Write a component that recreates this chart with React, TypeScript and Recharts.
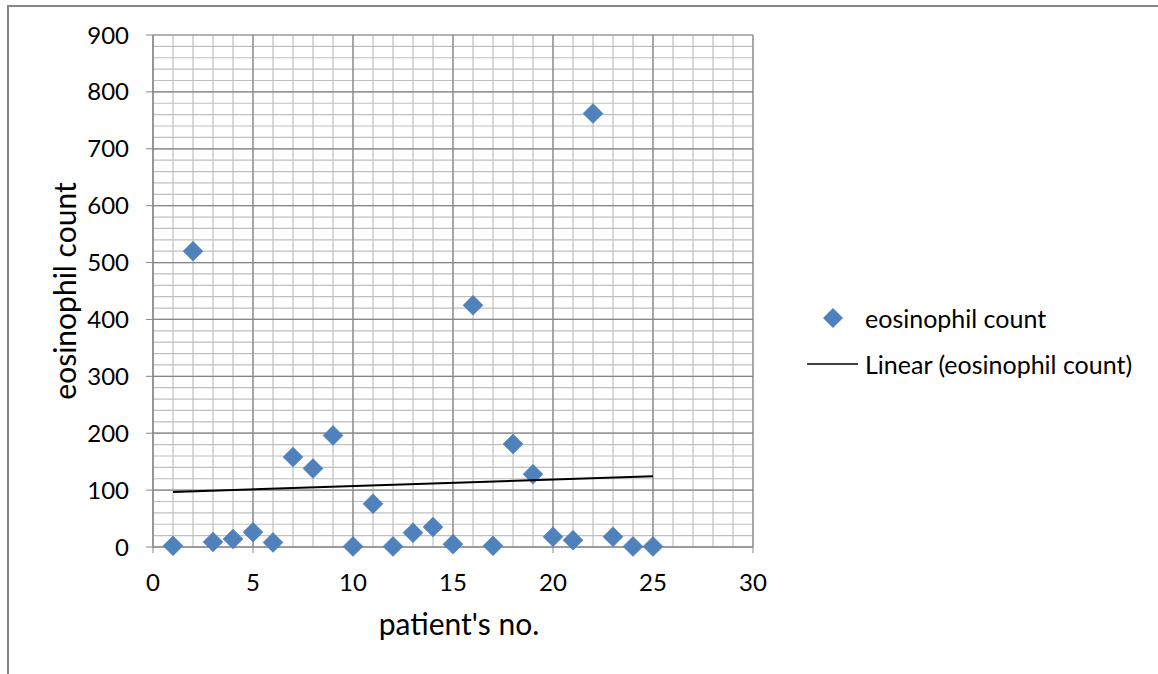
import React from 'react';
import { ScatterChart, Scatter, XAxis, YAxis, CartesianGrid, Legend, Label } from 'recharts';

const patientNo = [1, 2, 3, 4, 5, 6, 7, 8, 9, 10, 11, 12, 13, 14, 15, 16, 17, 18, 19, 20, 21, 22, 23, 24, 25];
const eosinophilCount = [2, 520, 9, 14, 26, 8, 158, 138, 196, 1, 76, 1, 25, 35, 5, 425, 2, 181, 128, 18, 12, 762, 18, 1, 1];

const xTicks = [0, 5, 10, 15, 20, 25, 30];
const yTicks = [0, 100, 200, 300, 400, 500, 600, 700, 800, 900];
const xMinor = Array.from({ length: 31 }, (_, i) => i);
const yMinor = Array.from({ length: 46 }, (_, i) => i * 20);

const seriesName = 'eosinophil count';
const trendName = 'Linear (eosinophil count)';

const points = patientNo.map((x, i) => ({ x, y: eosinophilCount[i] }));

// least squares trendline, as Excel draws it
const n = points.length;
const mx = patientNo.reduce((a, b) => a + b, 0) / n;
const my = eosinophilCount.reduce((a, b) => a + b, 0) / n;
const slope =
  points.reduce((s, p) => s + (p.x - mx) * (p.y - my), 0) /
  points.reduce((s, p) => s + (p.x - mx) ** 2, 0);
const intercept = my - slope * mx;
const xFirst = patientNo[0];
const xLast = patientNo[patientNo.length - 1];
const trendData = [
  { x: xFirst, y: intercept + slope * xFirst },
  { x: xLast, y: intercept + slope * xLast },
];

const BLUE = '#4F81BD';
const AXIS = '#868686';
const FONT = 'Lato, "Open Sans", sans-serif';

const Diamond = (props: any) => {
  const { cx, cy } = props;
  const r = 10;
  return (
    <polygon
      points={`${cx},${cy - r} ${cx + r},${cy} ${cx},${cy + r} ${cx - r},${cy}`}
      fill={BLUE}
      stroke="#4A7AB5"
      strokeWidth={0.5}
    />
  );
};

const renderLegend = () => (
  <div style={{ fontFamily: FONT, fontSize: 25, color: '#000', lineHeight: '26px' }}>
    <div style={{ display: 'flex', alignItems: 'center', height: 26 }}>
      <svg width={75} height={26}>
        <polygon points="43,3 53,13 43,23 33,13" fill={BLUE} />
      </svg>
      <span>{seriesName}</span>
    </div>
    <div style={{ display: 'flex', alignItems: 'center', height: 26, marginTop: 20 }}>
      <svg width={75} height={26}>
        <line x1={17} y1={13} x2={68} y2={13} stroke="#000" strokeWidth={1.5} />
      </svg>
      <span>{trendName}</span>
    </div>
  </div>
);

const App: React.FC = () => {
  return (
    <div
      style={{
        position: 'absolute',
        top: 5,
        left: 7,
        width: 1151,
        height: 669,
        borderTop: `2px solid ${AXIS}`,
        borderLeft: `2px solid ${AXIS}`,
        background: '#fff',
      }}
    >
      <ScatterChart width={1149} height={667} margin={{ top: 28, right: 405, bottom: 0, left: 0 }}>
        <CartesianGrid
          stroke="#BFBFBF"
          strokeWidth={1.2}
          verticalValues={xMinor}
          horizontalValues={yMinor}
        />
        <CartesianGrid
          stroke={AXIS}
          strokeWidth={1.2}
          verticalValues={xTicks}
          horizontalValues={yTicks}
        />
        <XAxis
          type="number"
          dataKey="x"
          domain={[0, 30]}
          ticks={xTicks}
          height={127}
          interval={0}
          stroke={AXIS}
          tickSize={6}
          tickMargin={21}
          tick={{ fill: '#000', fontSize: 24, fontFamily: FONT }}
        >
          <Label
            value="patient's no."
            position="insideTop"
            offset={67}
            dx={6}
            style={{ fill: '#000', fontSize: 30, fontFamily: FONT }}
          />
        </XAxis>
        <YAxis
          type="number"
          dataKey="y"
          domain={[0, 900]}
          ticks={yTicks}
          width={144}
          interval={0}
          stroke={AXIS}
          tickSize={7}
          tickMargin={17}
          tick={{ fill: '#000', fontSize: 24, fontFamily: FONT }}
        >
          <Label
            value="eosinophil count"
            angle={-90}
            position="insideLeft"
            offset={56}
            style={{ fill: '#000', fontSize: 30, fontFamily: FONT, textAnchor: 'middle' }}
          />
        </YAxis>
        <Legend
          layout="horizontal"
          align="center"
          verticalAlign="middle"
          content={renderLegend}
          wrapperStyle={{ position: 'absolute', left: 781, top: 298, width: 370, height: 80 }}
        />
        <Scatter
          name={seriesName}
          data={points}
          shape={Diamond}
          isAnimationActive={false}
        />
        <Scatter
          name={trendName}
          data={trendData}
          line={{ stroke: '#000', strokeWidth: 2 }}
          shape={() => <g />}
          legendType="none"
          isAnimationActive={false}
        />
      </ScatterChart>
    </div>
  );
};

export default App;
